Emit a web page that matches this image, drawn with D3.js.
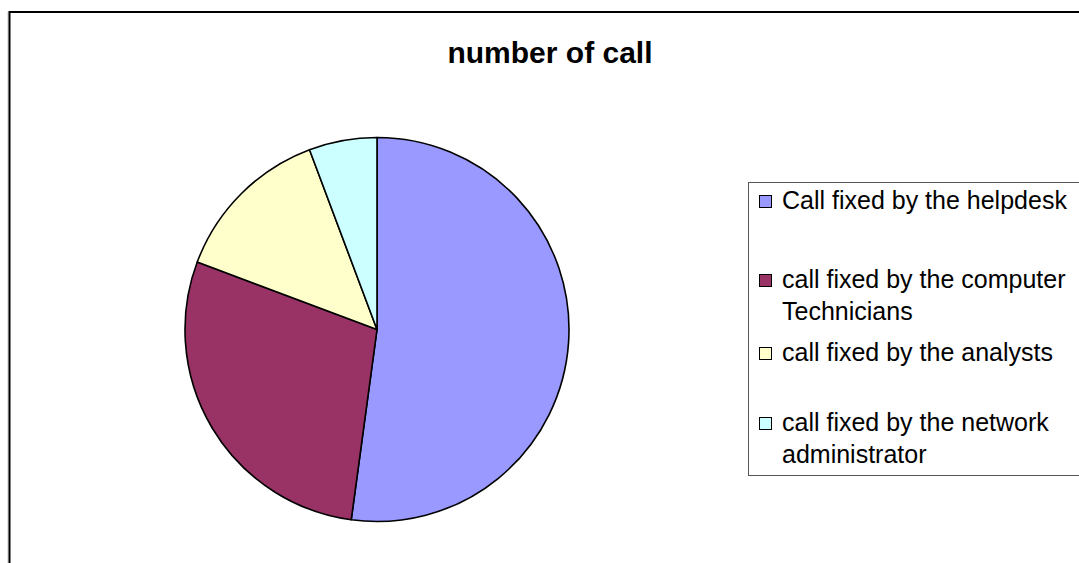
<!DOCTYPE html>
<html>
<head>
<meta charset="utf-8">
<script src="https://cdn.jsdelivr.net/npm/d3@7"></script>
<style>
  html, body { margin: 0; padding: 0; background: #fff; }
  svg { display: block; font-family: "Liberation Sans", Arial, sans-serif; }
</style>
</head>
<body>
<svg id="chart" width="1079" height="563"></svg>
<script>
// Who fixed the calls
const categories = [
  "Call fixed by the helpdesk",
  "call fixed by the computer Technicians",
  "call fixed by the analysts",
  "call fixed by the network administrator"
];
const legendLines = [
  ["Call fixed by the helpdesk"],
  ["call fixed by the computer", "Technicians"],
  ["call fixed by the analysts"],
  ["call fixed by the network", "administrator"]
];
const callCounts = [73, 40, 19, 8];
const sliceColors = ["#9999FF", "#993366", "#FFFFCC", "#CCFFFF"];
const chartTitle = "number of call";

const svg = d3.select("#chart");

// outer frame (right and bottom edges run past the page)
svg.append("rect")
  .attr("x", 8).attr("y", 12).attr("width", 1200).attr("height", 700)
  .attr("fill", "none").attr("stroke", "#c8c8c8").attr("stroke-width", 1);
svg.append("rect")
  .attr("x", 9.5).attr("y", 12).attr("width", 1200).attr("height", 700)
  .attr("fill", "none").attr("stroke", "#000").attr("stroke-width", 2);

svg.append("text")
  .attr("x", 550).attr("y", 63)
  .attr("text-anchor", "middle")
  .attr("font-size", 30).attr("font-weight", "bold")
  .text(chartTitle);

// pie
const data = categories.map((c, i) => ({ name: c, value: callCounts[i], color: sliceColors[i] }));
const pie = d3.pie().value(d => d.value).sort(null);
const arc = d3.arc().innerRadius(0).outerRadius(192);

svg.append("g")
  .attr("transform", "translate(377,329.5)")
  .selectAll("path")
  .data(pie(data))
  .join("path")
  .attr("d", arc)
  .attr("fill", d => d.data.color)
  .attr("stroke", "#000")
  .attr("stroke-width", 1.6)
  .attr("stroke-linejoin", "round");

// legend
svg.append("rect")
  .attr("x", 748.5).attr("y", 182.5).attr("width", 400).attr("height", 293)
  .attr("fill", "#fff").attr("stroke", "#555").attr("stroke-width", 1);

const baselines = [209, 288, 361, 431];
const lineGap = 32;
const legend = svg.append("g");
data.forEach((d, i) => {
  legend.append("rect")
    .attr("x", 759.5).attr("y", baselines[i] - 13.5)
    .attr("width", 12).attr("height", 12)
    .attr("fill", d.color).attr("stroke", "#000").attr("stroke-width", 1);
  legendLines[i].forEach((line, j) => {
    legend.append("text")
      .attr("x", 782).attr("y", baselines[i] + j * lineGap)
      .attr("font-size", 25)
      .attr("fill", "#000")
      .text(line);
  });
});
</script>
</body>
</html>
